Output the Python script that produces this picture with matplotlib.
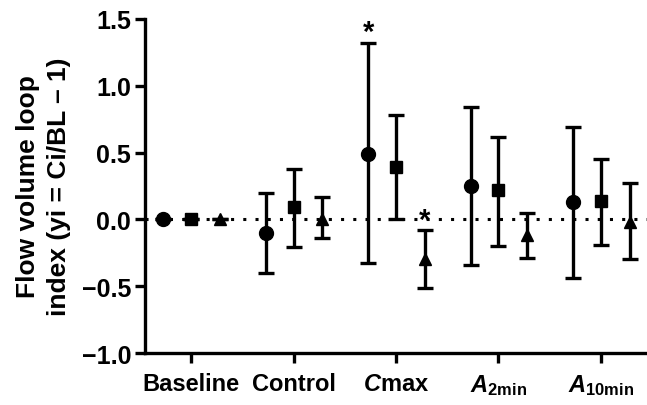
import numpy as np
import matplotlib.pyplot as plt

plt.rcParams['font.family'] = ['Liberation Sans', 'DejaVu Sans']
plt.rcParams['font.weight'] = 'bold'
plt.rcParams['mathtext.fontset'] = 'custom'
plt.rcParams['mathtext.it'] = 'Liberation Sans:italic:bold'
plt.rcParams['mathtext.rm'] = 'Liberation Sans:bold'
plt.rcParams['mathtext.sf'] = 'Liberation Sans'
plt.rcParams['axes.unicode_minus'] = True

grupos = ['Baseline', 'Control', r'$\it{C}$max', r'$\it{A}_{\mathsf{2min}}$', r'$\it{A}_{\mathsf{10min}}$']

# circulo / cuadrado / triangulo
circ_media = [0.0, -0.10, 0.49, 0.25, 0.13]
circ_bajo = [0.0, -0.40, -0.33, -0.34, -0.44]
circ_alto = [0.0, 0.20, 1.32, 0.84, 0.69]

cuad_media = [0.0, 0.09, 0.39, 0.22, 0.14]
cuad_bajo = [0.0, -0.21, 0.00, -0.20, -0.19]
cuad_alto = [0.0, 0.38, 0.78, 0.62, 0.45]

tri_media = [0.0, 0.00, -0.30, -0.12, -0.02]
tri_bajo = [0.0, -0.14, -0.51, -0.29, -0.30]
tri_alto = [0.0, 0.17, -0.08, 0.05, 0.27]

series = [
    (circ_media, circ_bajo, circ_alto, 'o', -0.27, 10),
    (cuad_media, cuad_bajo, cuad_alto, 's', 0.0, 9),
    (tri_media, tri_bajo, tri_alto, '^', 0.28, 9),
]

fig = plt.figure(figsize=(6.47, 4.06), dpi=100)
ax = fig.add_axes([0.224, 0.128, 0.776, 0.823])

x = np.arange(len(grupos))
ax.axhline(0, color='black', lw=2.2, ls=(0, (1, 3)), zorder=1)

for media, bajo, alto, m, off, ms in series:
    media = np.array(media)
    err = [media - np.array(bajo), np.array(alto) - media]
    ax.errorbar(x + off, media, yerr=err, fmt=m, color='black', ms=ms,
                elinewidth=2.4, capsize=5.5, capthick=2.4, zorder=3)

# asteriscos
ax.text(2 - 0.27, 1.30, '*', ha='center', va='bottom', fontsize=21)
ax.text(2 + 0.28, -0.11, '*', ha='center', va='bottom', fontsize=21)

ax.set_xlim(-0.45, 4.45)
ax.set_ylim(-1.0, 1.5)
ax.set_yticks([-1.0, -0.5, 0.0, 0.5, 1.0, 1.5])
ax.set_yticklabels(['\u22121.0', '\u22120.5', '0.0', '0.5', '1.0', '1.5'])
ax.set_xticks(x)
ax.set_xticklabels(grupos)
ax.tick_params(axis='both', width=2.4, length=7, labelsize=17, direction='out')
ax.tick_params(axis='x', pad=7)
ax.tick_params(axis='y', pad=3, labelsize=18)

for lado in ['top', 'right']:
    ax.spines[lado].set_visible(False)
for lado in ['left', 'bottom']:
    ax.spines[lado].set_linewidth(2.4)

ax.set_ylabel('Flow volume loop\nindex (yi = Ci/BL \u2013 1)', fontsize=19, fontweight='bold',
              linespacing=1.4)
ax.yaxis.set_label_coords(-0.147, 0.5)

fig.savefig('out.png', dpi=100)
